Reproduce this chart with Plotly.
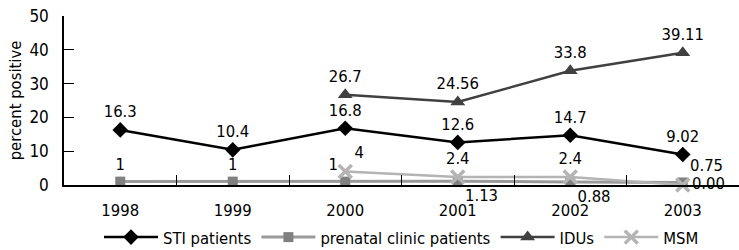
import plotly.graph_objects as go

years = ["1998", "1999", "2000", "2001", "2002", "2003"]
sti = [16.3, 10.4, 16.8, 12.6, 14.7, 9.02]
sti_lbl = ["16.3", "10.4", "16.8", "12.6", "14.7", "9.02"]
prenatal = [1, 1, 1, 1.13, 0.88, 0.75]
prenatal_lbl = ["1", "1", "1", "1.13", "0.88", "0.75"]
idu_years = ["2000", "2001", "2002", "2003"]
idu = [26.7, 24.56, 33.8, 39.11]
idu_lbl = ["26.7", "24.56", "33.8", "39.11"]
msm_years = ["2000", "2001", "2002", "2003"]
msm = [4, 2.4, 2.4, 0.0]
msm_lbl = ["4", "2.4", "2.4", "0.00"]

FONT = "Liberation Sans Narrow, Arial Narrow, DejaVu Sans Condensed, sans-serif"
FS = 16.5
tf = dict(family=FONT, size=FS, color="black")

fig = go.Figure()
fig.add_trace(go.Scatter(
    x=years, y=prenatal, name="prenatal clinic patients", mode="lines+markers+text",
    line=dict(color="#9a9a9a", width=3),
    marker=dict(symbol="square", size=10, color="#808080"),
    text=prenatal_lbl,
    textposition=["top center", "top center", "top left", "bottom right", "bottom right", "top right"],
    textfont=tf, cliponaxis=False))
fig.add_trace(go.Scatter(
    x=msm_years, y=msm, name="MSM", mode="lines+markers+text",
    line=dict(color="#b4b4b4", width=2.5),
    marker=dict(symbol="x-thin", size=13, line=dict(color="#b4b4b4", width=3.5), color="#b4b4b4"),
    text=msm_lbl,
    textposition=["top right", "top center", "top center", "middle right"],
    textfont=tf, cliponaxis=False))
fig.add_trace(go.Scatter(
    x=years, y=sti, name="STI patients", mode="lines+markers+text",
    line=dict(color="black", width=2.5),
    marker=dict(symbol="diamond", size=12, color="black"),
    text=sti_lbl, textposition="top center", textfont=tf, cliponaxis=False))
fig.add_trace(go.Scatter(
    x=idu_years, y=idu, name="IDUs", mode="lines+markers+text",
    line=dict(color="#404040", width=2.5),
    marker=dict(symbol="triangle-up", size=13, color="#404040"),
    text=idu_lbl, textposition="top center", textfont=tf, cliponaxis=False))

fig.update_layout(
    width=739, height=250,
    margin=dict(l=64, r=0, t=16, b=65, autoexpand=False),
    paper_bgcolor="white", plot_bgcolor="white",
    font=dict(family=FONT, size=FS, color="black"),
    showlegend=True,
    legend=dict(orientation="h", x=0.5, xanchor="center", y=-0.31, yanchor="middle",
                traceorder="normal", font=dict(family=FONT, size=FS),
                itemwidth=54),
    xaxis=dict(type="category", categoryorder="array", categoryarray=years,
               range=[-0.5, 5.5], showline=True, linecolor="black", linewidth=1.5,
               ticks="inside", ticklen=10, tickcolor="black", tickson="boundaries",
               ticklabelstandoff=9, showgrid=False, zeroline=False,
               tickfont=dict(family=FONT, size=FS)),
    yaxis=dict(range=[0, 50], tickvals=[0, 10, 20, 30, 40, 50], showline=True,
               linecolor="black", linewidth=1.5, ticks="inside", ticklen=10,
               tickcolor="black", showgrid=False, zeroline=False,
               ticklabelstandoff=10,
               title=dict(text="percent positive", font=dict(family=FONT, size=FS), standoff=4),
               tickfont=dict(family=FONT, size=17)),
)

order = ["STI patients", "prenatal clinic patients", "IDUs", "MSM"]
for t in fig.data:
    t.legendrank = order.index(t.name) + 1

fig.write_html("out.html", config={"displayModeBar": False},
               post_script="document.body.style.margin='0';document.body.style.overflow='hidden';")
